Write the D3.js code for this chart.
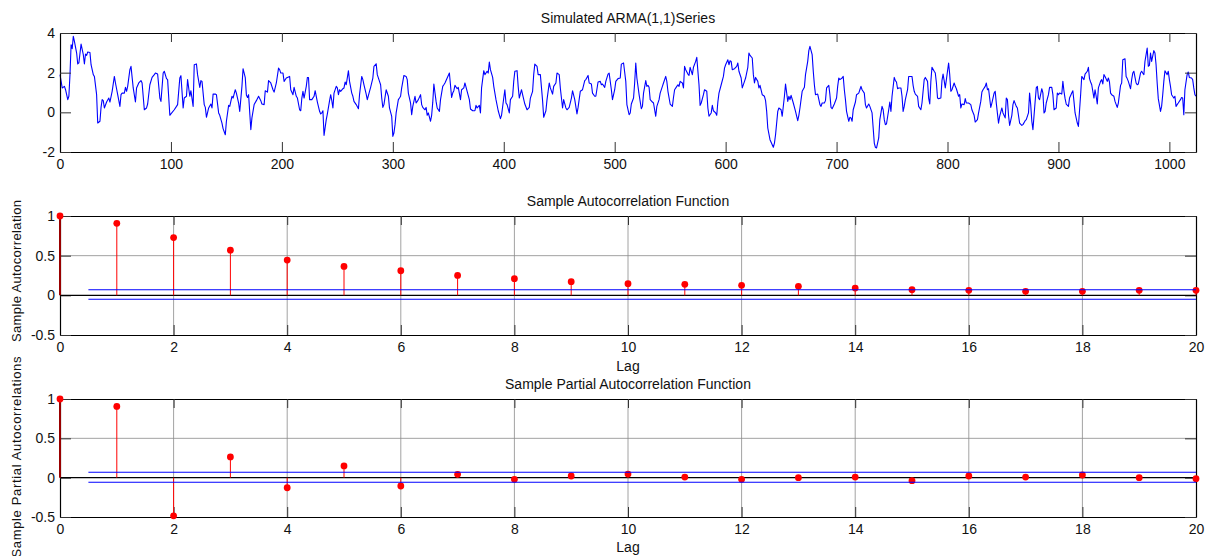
<!DOCTYPE html>
<html>
<head>
<meta charset="utf-8">
<script src="https://cdn.jsdelivr.net/npm/d3@7/dist/d3.min.js"></script>
<style>
body { margin: 0; background: #fff; }
svg text { font-family: "Liberation Sans", Arial, sans-serif; font-size: 14px; fill: #111; }
</style>
</head>
<body>
<script>
//simulated ARMA(1,1) series (time index, value)
var seriesT = [0,2,4,5,7,8,9,10,11,12,13,15,16,17,19,21,22,23,24,25,27,28,30,31,33,34,36,37,38,39,40,42,44,45,47,49,50,52,54,55,56,58,59,60,61,63,64,66,68,69,71,73,74,76,78,79,81,83,85,86,88,90,91,93,94,96,97,99,100,103,105,106,108,109,111,112,114,115,117,118,120,121,123,124,126,127,128,130,131,132,134,136,137,138,140,141,143,144,146,147,149,150,152,153,155,156,158,159,161,162,164,165,167,168,169,170,172,173,175,177,179,181,182,184,185,187,188,190,192,193,195,197,198,199,201,202,204,205,207,208,210,211,213,214,216,217,218,219,220,222,223,224,225,227,229,230,232,234,235,236,237,238,240,241,243,244,245,246,247,249,250,251,252,253,255,256,257,258,260,261,263,264,265,267,269,270,272,273,274,276,277,279,280,282,283,285,286,288,289,290,291,292,294,296,297,299,300,301,302,303,305,306,307,308,310,312,313,314,316,317,318,320,321,322,323,325,326,327,329,330,331,332,334,335,336,337,339,340,342,343,345,346,347,349,351,353,354,355,356,358,359,361,362,364,365,367,369,370,372,374,375,376,378,379,380,382,383,385,386,387,388,390,391,393,395,397,398,400,401,402,403,405,406,408,409,410,412,413,414,416,417,419,421,423,424,426,427,428,430,431,433,435,436,438,439,441,442,444,445,447,448,450,451,453,454,456,457,459,461,462,464,466,467,469,471,473,474,476,477,479,480,482,483,485,487,488,489,491,492,494,495,497,498,500,501,503,505,506,508,510,511,513,514,515,517,518,519,520,522,524,525,526,528,529,530,531,532,534,535,537,538,540,541,543,544,546,547,548,550,552,553,554,556,557,558,559,561,562,563,564,566,567,568,570,571,573,574,576,577,578,580,581,583,584,585,587,588,589,591,592,593,594,596,598,599,600,602,603,604,605,606,608,610,611,612,614,615,617,618,620,621,622,624,625,626,627,629,630,631,633,635,636,637,638,640,642,643,644,645,647,648,650,651,653,654,656,657,658,659,661,663,665,666,667,668,669,671,672,674,675,676,678,679,680,681,683,685,686,687,689,690,691,693,694,695,696,698,700,701,702,703,705,706,707,708,709,711,712,713,714,715,717,718,720,721,722,723,725,726,727,729,730,732,733,734,735,736,738,739,741,742,743,744,745,747,748,749,750,752,753,754,755,756,758,759,760,761,762,764,765,767,768,769,770,771,773,774,776,777,778,779,780,782,783,784,785,786,788,789,790,791,792,794,795,796,797,798,800,801,802,803,804,806,807,808,810,811,812,813,815,816,817,819,821,822,824,825,827,828,830,831,832,834,835,836,837,839,840,842,843,844,846,847,849,850,852,853,854,855,856,858,859,860,862,863,865,867,868,870,871,873,874,875,876,877,879,880,881,882,883,885,886,887,888,889,891,892,894,895,896,898,899,900,901,903,904,905,906,907,909,910,912,913,914,915,917,918,919,920,921,923,924,926,927,928,929,930,932,933,934,935,936,938,939,940,941,942,944,945,946,947,948,950,951,953,954,956,957,958,960,961,962,963,965,966,967,968,970,971,972,974,975,976,977,978,980,981,982,983,984,986,987,988,989,990,992,993,994,995,996,998,999,1000,1001,1002,1004,1005,1006,1007,1008,1010,1011,1012,1013,1014,1016,1017,1018,1020,1021,1022,1023,1024];
var seriesY = [1.90,1.23,1.31,1.14,0.64,0.81,1.90,3.41,3.21,3.83,3.58,2.99,2.44,2.49,3.44,2.91,2.44,2.94,2.87,3.04,3.02,2.40,1.90,1.81,0.89,-0.54,-0.45,0.25,0.64,0.59,0.22,0.52,0.72,0.52,1.06,1.81,1.48,0.89,0.30,0.89,0.97,0.97,1.26,1.06,1.31,2.15,2.32,1.23,0.52,1.23,1.48,1.60,1.48,0.13,0.22,0.42,1.39,1.76,1.90,1.98,1.93,0.72,0.55,1.98,2.07,1.70,1.65,-0.15,-0.08,0.13,0.30,0.39,1.73,1.85,0.22,0.72,0.81,1.65,0.81,1.09,0.30,2.40,2.44,1.90,1.26,1.60,1.56,0.39,0.25,-0.25,0.22,0.42,0.22,0.92,0.92,0.89,-0.03,-0.15,-0.54,-0.82,-1.13,-0.45,0.35,0.30,0.81,0.72,1.14,0.97,0.47,0.05,1.31,2.20,1.75,0.87,0.75,0.89,-0.87,-0.28,0.39,0.59,0.81,0.59,0.42,0.39,1.09,1.02,1.60,1.48,1.14,1.02,1.48,2.23,2.15,1.98,1.98,1.56,1.73,1.76,1.81,1.14,0.89,1.26,0.81,0.72,0.13,0.08,0.72,1.06,0.72,1.31,1.76,1.76,0.64,0.64,0.81,1.09,0.52,0.05,-0.08,-0.03,0.08,-1.16,-0.37,-0.08,0.59,0.89,0.59,0.22,0.97,1.31,1.23,0.89,1.14,1.06,1.19,1.23,1.53,1.39,2.10,1.56,0.97,0.81,0.55,0.39,0.18,0.89,1.81,1.65,1.39,0.92,0.64,1.06,1.26,1.73,2.32,2.45,1.90,1.56,1.39,0.72,0.25,0.39,1.14,0.81,0.22,-0.20,-1.21,-1.04,-0.62,-0.03,0.64,0.72,0.81,1.23,1.86,1.81,1.65,0.97,0.47,-0.12,0.30,0.81,0.47,0.55,0.64,0.89,0.39,0.25,0.13,0.25,-0.15,-0.03,-0.45,-0.15,0.50,1.43,0.55,0.22,0.05,0.64,1.31,1.39,1.48,1.73,1.98,0.75,0.97,1.09,1.36,1.19,1.26,0.64,1.14,1.23,1.48,1.06,0.64,0.17,0.08,0.08,0.35,0.22,0.35,-0.03,1.23,2.10,1.90,2.07,1.98,2.54,2.15,1.76,1.31,0.64,0.08,-0.32,-0.15,0.72,1.14,0.47,0.39,-0.03,0.64,0.81,1.56,2.07,2.10,1.31,0.72,1.14,0.89,0.42,0.13,0.25,0.72,1.06,1.90,2.43,2.32,1.90,1.90,0.59,-0.25,0.08,0.64,1.48,1.23,0.92,1.31,1.48,1.98,1.90,1.23,0.22,0.64,0.22,0.13,0.25,0.72,1.09,0.64,-0.08,0.25,1.06,1.14,1.60,1.65,1.86,1.48,1.43,0.97,0.81,0.81,1.53,1.56,1.39,1.43,1.26,1.56,1.93,1.98,1.14,0.64,1.14,1.56,1.70,1.73,2.43,2.49,1.56,0.39,-0.12,-0.03,0.42,0.72,1.48,2.49,1.73,0.89,0.18,0.30,0.97,1.60,1.31,1.36,1.26,0.64,0.52,0.47,-0.20,0.30,0.64,0.97,1.31,1.48,1.81,1.56,1.06,0.42,0.30,0.75,1.14,1.31,1.39,1.31,1.56,1.48,1.23,2.32,2.15,1.93,1.86,2.27,1.90,2.27,2.57,2.77,1.39,0.35,0.47,0.89,1.14,1.06,0.22,-0.20,-0.03,0.35,0.08,-0.03,-0.15,0.52,0.97,1.39,1.81,2.23,2.40,2.65,2.40,2.60,2.57,2.15,2.20,2.32,2.49,2.07,1.73,1.23,1.56,1.73,2.27,2.99,2.87,2.74,1.90,1.48,1.76,1.56,1.23,1.36,0.89,0.81,0.59,0.05,-0.79,-1.38,-1.63,-1.76,-1.55,-1.13,0.05,0.22,0.13,-0.20,0.81,1.43,0.55,0.81,0.64,0.86,0.47,0.05,-0.42,-0.15,0.22,0.64,1.06,1.26,1.90,2.57,3.11,3.33,2.91,2.07,1.39,0.89,0.92,0.39,0.30,0.47,0.47,0.59,1.23,1.36,0.89,0.25,0.18,0.42,0.72,1.31,1.73,1.65,1.73,1.81,1.14,0.64,0.05,-0.45,-0.25,-0.28,-0.45,0.13,0.52,0.89,0.97,1.14,1.31,1.14,0.97,0.39,0.22,0.42,0.30,-0.03,-0.79,-1.55,-1.76,-1.80,-1.29,-0.37,0.30,0.13,-0.37,-0.62,-0.59,0.13,0.52,0.05,0.81,1.76,1.60,1.53,1.19,1.23,1.23,0.81,0.05,0.30,0.64,1.14,1.81,1.81,1.81,1.36,1.06,0.92,0.81,0.30,0.13,0.47,1.06,1.65,1.76,1.56,0.72,0.42,1.56,2.27,2.07,1.98,1.48,0.72,0.69,0.72,1.60,1.93,1.60,1.23,2.07,2.49,1.90,1.06,1.14,1.48,1.31,1.19,0.81,0.89,0.22,0.42,0.39,0.69,0.47,0.47,0.39,0.13,-0.15,-0.49,-0.37,-0.03,0.55,1.02,1.14,1.31,1.48,1.14,1.19,0.25,0.47,0.97,1.06,0.45,-0.55,-0.20,0.22,-0.03,-0.28,0.72,0.64,-0.15,-0.66,-0.15,0.39,0.59,0.30,0.22,-0.54,-0.66,-0.62,-0.42,-0.37,-0.03,0.97,0.39,-0.45,-0.87,0.55,1.23,1.31,0.72,0.64,1.19,0.97,-0.03,0.05,0.47,0.89,1.26,1.26,0.89,0.13,0.22,0.97,0.89,0.97,0.92,1.56,1.06,0.69,0.42,0.30,0.72,0.97,1.09,0.55,-0.03,-0.54,-0.71,0.08,0.89,1.81,1.65,1.93,2.07,2.27,1.70,1.53,1.39,0.72,1.14,0.81,0.42,1.23,1.56,1.65,1.43,1.90,1.81,1.56,1.73,1.53,0.97,0.89,0.81,0.55,0.25,0.47,1.36,1.48,2.65,2.70,1.81,1.70,1.56,1.19,1.65,1.98,2.07,1.48,1.39,1.43,1.98,2.07,1.98,1.90,2.57,3.24,2.32,2.37,2.99,2.57,3.11,2.99,2.40,1.48,0.69,0.05,0.30,0.89,1.56,2.10,1.90,2.07,1.65,1.31,0.89,0.72,0.81,0.30,0.39,0.47,0.64,0.75,0.72,-0.12,1.14,1.90,2.03,1.76,1.73,1.65,1.23,0.89,0.81];
var seriesXTicks = [0, 100, 200, 300, 400, 500, 600, 700, 800, 900, 1000];
var seriesYTicks = [-2, 0, 2, 4];

//sample ACF and PACF by lag
var lags = [0, 1, 2, 3, 4, 5, 6, 7, 8, 9, 10, 11, 12, 13, 14, 15, 16, 17, 18, 19, 20];
var acfValues = [1, 0.908, 0.728, 0.569, 0.444, 0.364, 0.310, 0.251, 0.210, 0.172, 0.147, 0.139, 0.126, 0.113, 0.092, 0.071, 0.063, 0.050, 0.050, 0.063, 0.063];
var pacfValues = [1, 0.906, -0.485, 0.264, -0.128, 0.149, -0.106, 0.043, -0.021, 0.021, 0.046, 0.008, -0.021, 0.000, 0.008, -0.038, 0.021, 0.008, 0.034, 0.000, -0.013];
var acfBounds = [0.07, -0.05];
var pacfBounds = [0.068, -0.059];
var lagTicks = [0, 2, 4, 6, 8, 10, 12, 14, 16, 18, 20];
var corrTicks = [-0.5, 0, 0.5, 1];

var width = 1207,
    height = 556;

var svg = d3.select("body")
    .append("svg")
    .attr("width", width)
    .attr("height", height);

svg.append("rect")
    .attr("width", width)
    .attr("height", height)
    .attr("fill", "#fff");

//draws ticks on all four sides, labels only bottom and left
function drawAxes(g, x, y, xTicks, yTicks) {
    var fmt = function(d) { return String(d); };
    var yb = y.range()[0], yt = y.range()[1];
    var xl = x.range()[0], xr = x.range()[1];

    g.append("g").attr("transform", "translate(0," + yb + ")")
        .call(d3.axisBottom(x).tickValues(xTicks).tickSize(-10).tickSizeOuter(0).tickPadding(7).tickFormat(fmt));
    g.append("g").attr("transform", "translate(0," + yt + ")")
        .call(d3.axisTop(x).tickValues(xTicks).tickSize(-9).tickSizeOuter(0).tickFormat(""));
    g.append("g").attr("transform", "translate(" + xl + ",0)")
        .call(d3.axisLeft(y).tickValues(yTicks).tickSize(-11).tickSizeOuter(0).tickPadding(5).tickFormat(fmt));
    g.append("g").attr("transform", "translate(" + xr + ",0)")
        .call(d3.axisRight(y).tickValues(yTicks).tickSize(-11).tickSizeOuter(0).tickFormat(""));

    g.selectAll(".domain").attr("stroke", "#000").attr("stroke-width", 1.2);
    g.selectAll(".tick line").attr("stroke", "#333");
    g.selectAll(".tick text").attr("fill", "#111").style("font-size", "14px");
    g.selectAll("g").attr("font-family", null).attr("font-size", null);
}

function addTitle(text, x, y) {
    svg.append("text")
        .attr("x", x)
        .attr("y", y)
        .attr("text-anchor", "middle")
        .text(text);
}

//----- top panel: the series -----
var x1 = d3.scaleLinear().domain([0, 1024]).range([60, 1196]);
var y1 = d3.scaleLinear().domain([-2, 4]).range([152, 33]);
var seriesPanel = svg.append("g");
var n = Math.min(seriesT.length, seriesY.length);

var line = d3.line()
    .x(function(i){ return x1(seriesT[i]); })
    .y(function(i){ return y1(seriesY[i]); });

seriesPanel.append("path")
    .datum(d3.range(n))
    .attr("fill", "none")
    .attr("stroke", "#0000ff")
    .attr("stroke-width", 1.1)
    .attr("stroke-linejoin", "round")
    .attr("d", line);

drawAxes(seriesPanel, x1, y1, seriesXTicks, seriesYTicks);
addTitle("Simulated ARMA(1,1)Series", 628, 23);

//----- ACF and PACF panels -----
function drawStemPanel(values, bounds, y0, y1px, title, titleY, ylabel, ylabelY, ylabelLen, lagY) {
    var x = d3.scaleLinear().domain([0, 20]).range([60, 1196]);
    var y = d3.scaleLinear().domain([-0.5, 1]).range([y1px, y0]);
    var g = svg.append("g");

    //grid
    g.selectAll(".vgrid")
        .data(lagTicks.slice(1, -1))
        .enter()
        .append("line")
        .attr("x1", function(d){ return x(d); })
        .attr("x2", function(d){ return x(d); })
        .attr("y1", y(1))
        .attr("y2", y(-0.5))
        .attr("stroke", "#8a8a8a")
        .attr("stroke-width", 0.8);
    g.append("line")
        .attr("x1", x(0)).attr("x2", x(20))
        .attr("y1", y(0.5)).attr("y2", y(0.5))
        .attr("stroke", "#8a8a8a")
        .attr("stroke-width", 0.8);

    drawAxes(g, x, y, lagTicks, corrTicks);

    //zero line
    g.append("line")
        .attr("x1", x(0)).attr("x2", x(20))
        .attr("y1", y(0)).attr("y2", y(0))
        .attr("stroke", "#000")
        .attr("stroke-width", 1.2);

    //stems
    g.selectAll(".stem")
        .data(values)
        .enter()
        .append("line")
        .attr("x1", function(d, i){ return x(lags[i]); })
        .attr("x2", function(d, i){ return x(lags[i]); })
        .attr("y1", y(0))
        .attr("y2", function(d){ return y(d); })
        .attr("stroke", function(d, i){ return i == 0 ? "#990000" : "#ff0000"; })
        .attr("stroke-width", function(d, i){ return i == 0 ? 2 : 1; });

    g.selectAll(".dot")
        .data(values)
        .enter()
        .append("circle")
        .attr("cx", function(d, i){ return x(lags[i]); })
        .attr("cy", function(d){ return y(d); })
        .attr("r", 3.4)
        .attr("fill", "#ff0000");

    //confidence bounds
    g.selectAll(".bound")
        .data(bounds)
        .enter()
        .append("line")
        .attr("x1", x(0.5)).attr("x2", x(20))
        .attr("y1", function(d){ return y(d); })
        .attr("y2", function(d){ return y(d); })
        .attr("stroke", "#0000ff")
        .attr("stroke-width", 1.1);

    addTitle(title, 628, titleY);
    addTitle("Lag", 628, lagY);

    svg.append("text")
        .attr("transform", "translate(20.5," + ylabelY + ") rotate(-90)")
        .attr("text-anchor", "middle")
        .attr("textLength", ylabelLen)
        .attr("lengthAdjust", "spacing")
        .style("font-size", "13px")
        .text(ylabel);
}

drawStemPanel(acfValues, acfBounds, 216, 335, "Sample Autocorrelation Function", 206,
    "Sample Autocorrelation", 271, 142, 371);
drawStemPanel(pacfValues, pacfBounds, 399, 517, "Sample Partial Autocorrelation Function", 389,
    "Sample Partial Autocorrelations", 457, 201, 552);
</script>
</body>
</html>
